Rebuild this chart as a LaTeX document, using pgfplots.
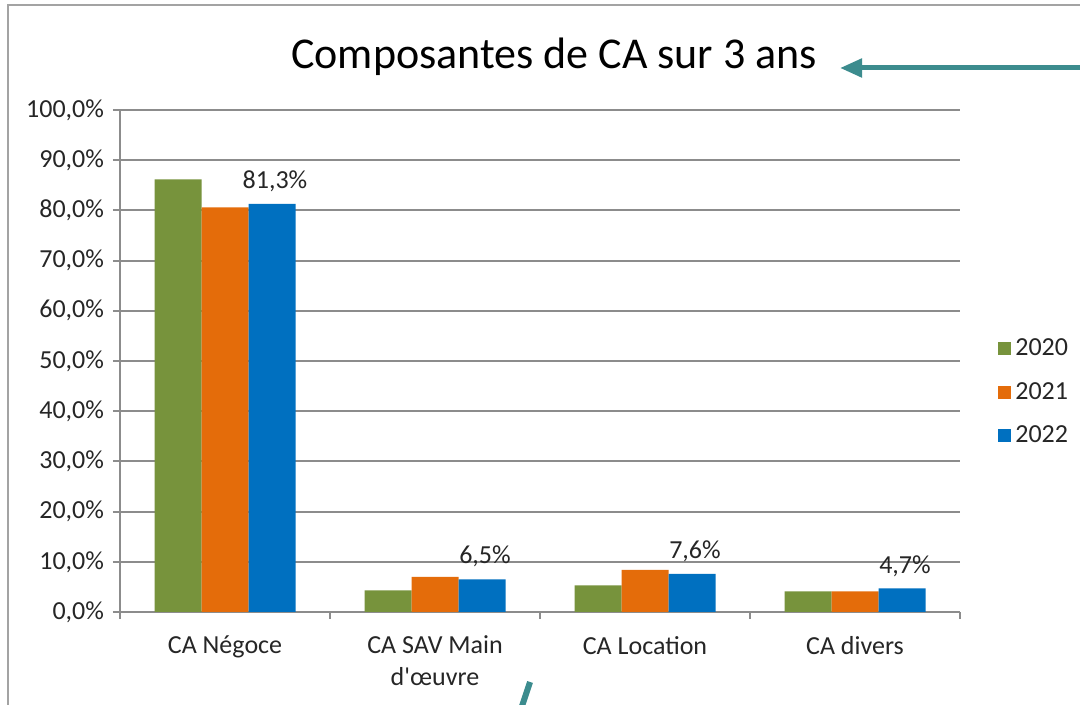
\documentclass[border=0pt]{standalone}
\usepackage{fontspec}
\setmainfont{Carlito}
\usepackage{pgfplots}
\pgfplotsset{compat=1.18}
\usetikzlibrary{arrows.meta}
\definecolor{cgreen}{HTML}{77933C}
\definecolor{corange}{HTML}{E46C0A}
\definecolor{cblue}{HTML}{0070C0}
\definecolor{cgrid}{HTML}{8C8C8C}
\definecolor{cteal}{HTML}{3C8C8E}
\definecolor{ctext}{HTML}{262626}
\begin{document}
\begin{tikzpicture}
\useasboundingbox (0,0) rectangle (540pt,352.5pt);
\fill[white] (0,0) rectangle (540pt,352.5pt);
\draw[cgrid!80, line width=0.8pt] (4pt,-20pt) -- (4pt,350pt) -- (600pt,350pt);
\begin{axis}[
  at={(60pt,46.5pt)}, anchor=south west,
  scale only axis, width=420pt, height=251pt,
  xmin=-0.5, xmax=3.5, ymin=0, ymax=100,
  ybar=0pt, bar width=23.5pt,
  axis x line*=bottom, axis y line*=left,
  axis line style={cgrid, line width=1pt, -},
  ytick={0,10,...,100},
  yticklabels={{0,0\%},{10,0\%},{20,0\%},{30,0\%},{40,0\%},{50,0\%},{60,0\%},{70,0\%},{80,0\%},{90,0\%},{100,0\%}},
  ymajorgrids, grid style={cgrid, line width=1pt},
  xtick={-0.5,0.5,1.5,2.5,3.5}, xticklabels={},
  extra x ticks={0,1,2,3},
  extra x tick labels={CA Négoce,{CA SAV Main\\d\textquotesingle œuvre},CA Location,CA divers},
  extra x tick style={major tick length=0pt, grid=none},
  xticklabel style={align=center, font=\fontsize{13}{16}\selectfont, text=ctext, yshift=-8.5pt},
  yticklabel style={font=\fontsize{13}{15}\selectfont, text=ctext, xshift=-1pt},
  tick align=outside, major tick length=3.5pt, tick style={cgrid, line width=1pt},
  legend style={at={(1.038,0.438)}, anchor=west, draw=none, fill=none,
    font=\fontsize{13}{15}\selectfont, text=ctext, row sep=8pt},
  legend cell align=left,
  legend image code/.code={\fill[#1] (0pt,-3.25pt) rectangle (6.5pt,3.25pt);},
]
\addplot[fill=cgreen, draw=none] coordinates {(0,86.2) (1,4.3) (2,5.3) (3,4.1)};
\addplot[fill=corange, draw=none] coordinates {(0,80.6) (1,7.0) (2,8.4) (3,4.1)};
\addplot[fill=cblue, draw=none,
  nodes near coords={\pgfmathprintnumber[fixed,fixed zerofill,precision=1,use comma,assume math mode=true]{\pgfplotspointmeta}\%},
  every node near coord/.append style={font=\fontsize{13}{15}\selectfont, text=ctext, fill=none, yshift=2.5pt, xshift=1.5pt}]
  coordinates {(0,81.3) (1,6.5) (2,7.6) (3,4.7)};
\legend{2020,2021,2022}
\end{axis}
\node[font=\fontsize{22}{26}\selectfont, text=black] at (277pt,324pt) {Composantes de CA sur 3 ans};
\draw[cteal, line width=2.5pt, -{Triangle[length=11pt,width=9pt]}] (545pt,318.5pt) -- (420pt,318.5pt);
\draw[cteal, line width=3pt] (265pt,11.5pt) -- (260.5pt,-2pt);
\end{tikzpicture}
\end{document}
